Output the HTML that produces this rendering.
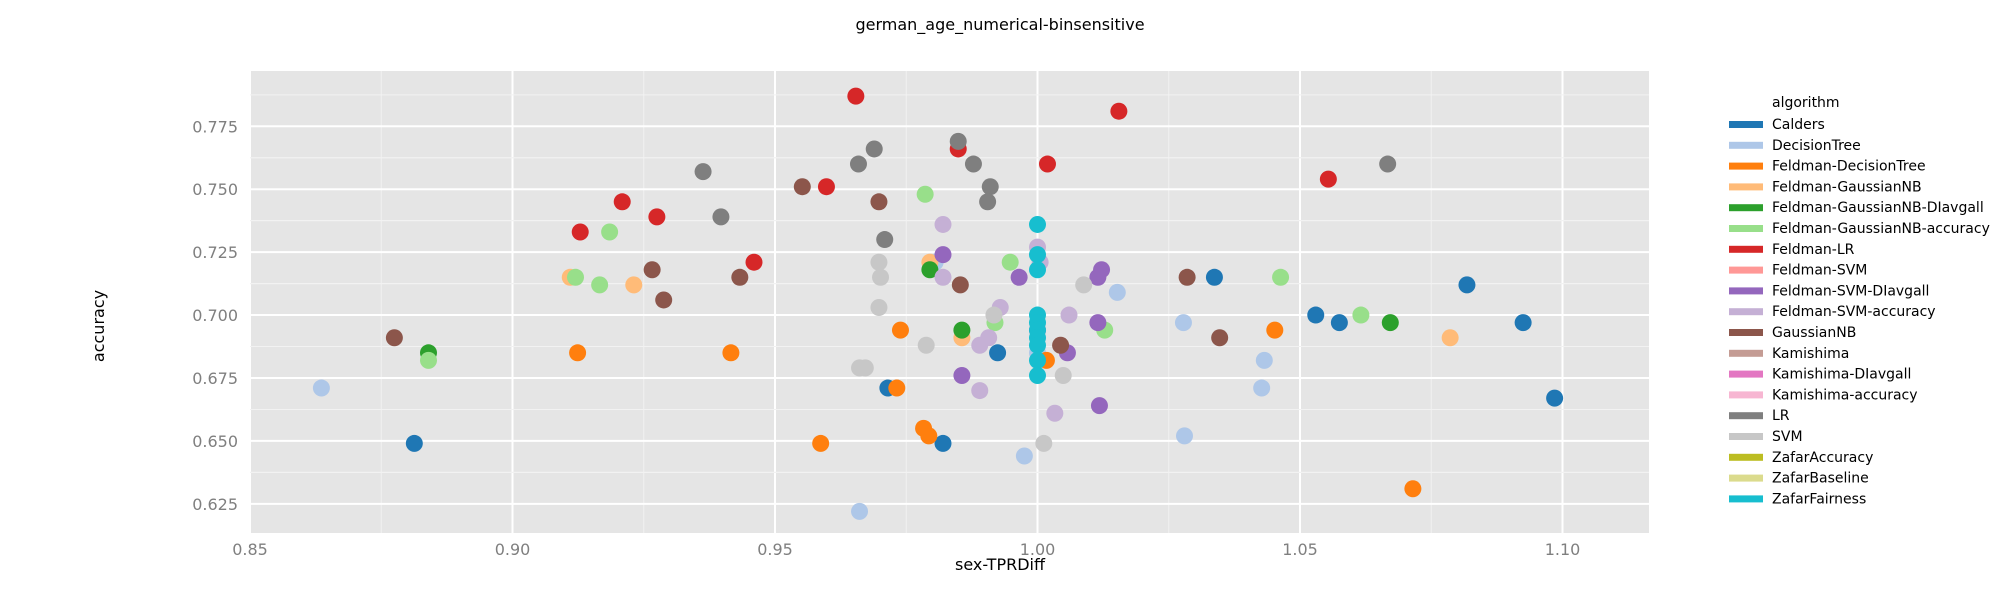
<!DOCTYPE html>
<html><head><meta charset="utf-8"><style>
body{margin:0;background:#fff;font-family:"Liberation Sans","DejaVu Sans",sans-serif}
svg text{font-family:"DejaVu Sans","Liberation Sans",sans-serif}
</style></head><body>
<svg id="chart" width="2000" height="600" xmlns="http://www.w3.org/2000/svg"></svg>
<script>
const seriesNames=["Calders","DecisionTree","Feldman-DecisionTree","Feldman-GaussianNB","Feldman-GaussianNB-DIavgall","Feldman-GaussianNB-accuracy","Feldman-LR","Feldman-SVM","Feldman-SVM-DIavgall","Feldman-SVM-accuracy","GaussianNB","Kamishima","Kamishima-DIavgall","Kamishima-accuracy","LR","SVM","ZafarAccuracy","ZafarBaseline","ZafarFairness"];
const seriesColors=["#1f77b4","#aec7e8","#ff7f0e","#ffbb78","#2ca02c","#98df8a","#d62728","#ff9896","#9467bd","#c5b0d5","#8c564b","#c49c94","#e377c2","#f7b6d2","#7f7f7f","#c7c7c7","#bcbd22","#dbdb8d","#17becf"];
const xTicks=[0.85,0.90,0.95,1.00,1.05,1.10];
const yTicks=[0.625,0.650,0.675,0.700,0.725,0.750,0.775];
const calders=[[0.8813,0.649],[0.9715,0.671],[0.9924,0.685],[0.982,0.649],[1.0337,0.715],[1.053,0.700],[1.0575,0.697],[1.0818,0.712],[1.0925,0.697],[1.0985,0.667]];
const decisionTree=[[0.8636,0.671],[0.9661,0.622],[0.9975,0.644],[1.0152,0.709],[1.0278,0.697],[1.028,0.652],[1.0432,0.682],[1.0427,0.671],[0.9805,0.721],[1.0,0.685]];
const feldmanDT=[[0.9124,0.685],[0.9416,0.685],[0.9587,0.649],[0.9739,0.694],[0.9732,0.671],[0.9783,0.655],[0.9793,0.652],[1.0017,0.682],[1.0452,0.694],[1.0715,0.631]];
const feldmanGNB=[[0.911,0.715],[0.9231,0.712],[0.9795,0.721],[0.9856,0.691],[1.0786,0.691]];
const feldmanGNBDI=[[0.884,0.685],[0.9795,0.718],[0.9856,0.694],[1.0672,0.697]];
const feldmanGNBAcc=[[0.884,0.682],[0.912,0.715],[0.9166,0.712],[0.9185,0.733],[0.9786,0.748],[0.9919,0.697],[0.9948,0.721],[1.0128,0.694],[1.0463,0.715],[1.0616,0.700]];
const feldmanLR=[[0.9129,0.733],[0.9209,0.745],[0.9275,0.739],[0.946,0.721],[0.9598,0.751],[0.9654,0.787],[0.9849,0.766],[1.0019,0.760],[1.0155,0.781],[1.0554,0.754]];
const feldmanSVM=[];
const feldmanSVMDI=[[0.982,0.724],[0.9965,0.715],[1.0115,0.715],[1.0122,0.718],[0.9856,0.676],[1.0057,0.685],[1.0115,0.697],[1.0118,0.664],[1.0,0.694]];
const feldmanSVMAcc=[[0.982,0.736],[0.982,0.715],[0.9929,0.703],[0.989,0.688],[0.9907,0.691],[0.989,0.670],[1.0,0.727],[1.0005,0.721],[1.006,0.700],[1.0033,0.661]];
const gaussianNB=[[0.8775,0.691],[0.9266,0.718],[0.9288,0.706],[0.9433,0.715],[0.9552,0.751],[0.9698,0.745],[0.9853,0.712],[1.0044,0.688],[1.0285,0.715],[1.0347,0.691]];
const lr=[[0.9363,0.757],[0.9397,0.739],[0.9659,0.760],[0.9689,0.766],[0.9709,0.730],[0.9849,0.769],[0.9878,0.760],[0.991,0.751],[0.9905,0.745],[1.0667,0.760]];
const svm=[[0.9698,0.721],[0.9701,0.715],[0.9698,0.703],[0.9661,0.679],[0.9672,0.679],[0.9788,0.688],[0.9917,0.700],[1.0088,0.712],[1.0049,0.676],[1.0012,0.649]];
const zafarFairness=[[1.0,0.736],[1.0,0.724],[1.0,0.718],[1.0,0.700],[1.0,0.697],[1.0,0.694],[1.0,0.691],[1.0,0.688],[1.0,0.682],[1.0,0.676]];
const plotSeries=[[0,calders],[1,decisionTree],[2,feldmanDT],[3,feldmanGNB],[4,feldmanGNBDI],[5,feldmanGNBAcc],[6,feldmanLR],[7,feldmanSVM],[8,feldmanSVMDI],[9,feldmanSVMAcc],[10,gaussianNB],[14,lr],[15,svm],[18,zafarFairness]];

const NS="http://www.w3.org/2000/svg";
const svg=document.getElementById('chart');
const L=250,R=1649,T=71,B=533;
function sx(v){return L+(v-0.85)/0.05*262.5;}
function sy(v){return 126.3+(0.775-v)/0.025*62.92;}
function mk(tag,attrs){const e=document.createElementNS(NS,tag);for(const k in attrs)e.setAttribute(k,attrs[k]);svg.appendChild(e);return e;}

const bg=mk('rect',{x:L,y:T,width:R-L,height:B-T,fill:'#e5e5e5'});


for(let i=0;i<xTicks.length;i++){
  const v=xTicks[i];
  const g=mk('line',{x1:sx(v),x2:sx(v),y1:T,y2:B,stroke:'#fff','stroke-width':2});
  
  
  const mv=v+0.025;
  if(sx(mv)<R){const m=mk('line',{x1:sx(mv),x2:sx(mv),y1:T,y2:B,stroke:'#f2f2f2','stroke-width':1});
  
  }
  const t=mk('text',{x:sx(v),y:B+22,'text-anchor':'middle','font-size':16,fill:'#7f7f7f'});
  t.textContent=v.toFixed(2);
  
  
}
const mv0=sx(0.825);
for(let i=0;i<yTicks.length;i++){
  const v=yTicks[i];
  const g=mk('line',{x1:L,x2:R,y1:sy(v),y2:sy(v),stroke:'#fff','stroke-width':2});
  
  
  [v-0.0125,v+0.0125].forEach(mvv=>{const y=sy(mvv);if(y>T&&y<B){const m=mk('line',{x1:L,x2:R,y1:y,y2:y,stroke:'#f2f2f2','stroke-width':1});
  
  }});
  const t=mk('text',{x:L-12,y:sy(v)+6,'text-anchor':'end','font-size':16,fill:'#7f7f7f'});
  t.textContent=v.toFixed(3);
  
  
}
plotSeries.forEach(([ci,pts])=>{
  pts.forEach(p=>{
    const c=mk('circle',{cx:sx(p[0]),cy:sy(p[1]),r:8.5,fill:seriesColors[ci]});
    
    
  });
});
const title=mk('text',{x:1000,y:30,'text-anchor':'middle','font-size':16,fill:'#000'});
title.textContent='german_age_numerical-binsensitive';


const xl=mk('text',{x:1000,y:570,'text-anchor':'middle','font-size':16,fill:'#000'});
xl.textContent='sex-TPRDiff';


const yl=mk('text',{x:0,y:0,'text-anchor':'middle','font-size':16,fill:'#000',transform:'translate(104,326) rotate(-90)'});
yl.textContent='accuracy';


const lt=mk('text',{x:1772,y:107,'font-size':14,fill:'#000'});
lt.textContent='algorithm';


seriesNames.forEach((n,i)=>{
  const y=124+i*20.8;
  const r=mk('rect',{x:1729,y:y-3,width:34,height:7,fill:seriesColors[i]});
  
  
  const t=mk('text',{x:1772,y:y+5,'font-size':14,fill:'#000'});
  t.textContent=n;
  
  
});
</script>
</body></html>
